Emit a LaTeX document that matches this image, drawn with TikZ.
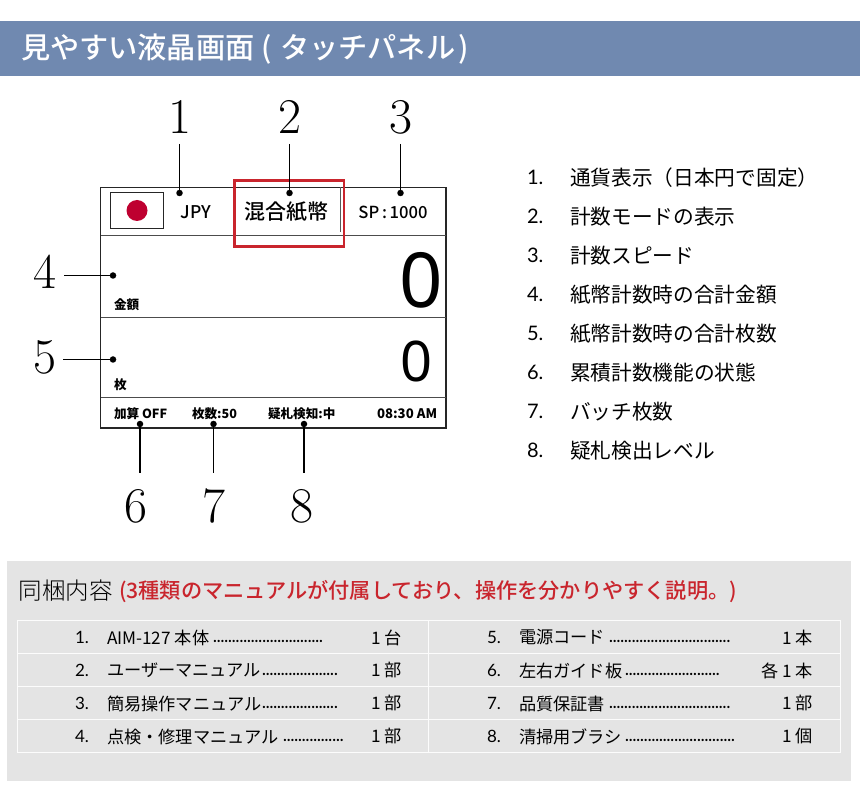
\documentclass[tikz,border=0pt]{standalone}
\usepackage{fontspec}
\setmainfont{Noto Sans CJK JP}
\newfontfamily\numfont{Latin Modern Roman}
\newfontfamily\bigfont{Noto Sans}
\newfontfamily\latfont{Lato}
\newfontfamily\medfont{Noto Sans CJK JP Medium}
\newfontfamily\lightfont{Noto Sans CJK JP Light}
\newcommand{\fs}[1]{\fontsize{#1}{#1}\selectfont}
\definecolor{band}{HTML}{7089B0}
\definecolor{boxgray}{HTML}{E4E4E4}
\definecolor{redtxt}{HTML}{C9252D}
\definecolor{flagred}{HTML}{BE0030}
\tikzset{
 txt/.style={inner sep=0,outer sep=0,anchor=west,text=black},
 ctr/.style={inner sep=0,outer sep=0,anchor=center,text=black},
 bignum/.style={ctr,font=\numfont\fs{50}},
 pointer/.style={circle,fill=black,inner sep=0,minimum size=6.5pt},
 leader/.style={line width=1.4pt,black},
 panelrule/.style={line width=0.9pt,draw=black!70},
 listnum/.style={txt,font=\latfont\fs{20}},
 listtxt/.style={txt,font=\fs{20.7}},
 rownum/.style={txt,font=\latfont\fs{17}},
 rowtxt/.style={txt,font=\fs{17.2}},
 dots/.style={txt,font=\bfseries\fs{10.8}},
 paneltxt/.style={txt,font=\bfseries\fs{12.6}},
 gridline/.style={line width=1pt,draw=white!90!boxgray},
}
\begin{document}
\begin{tikzpicture}[x=1pt,y=-1pt]
\useasboundingbox (0,0) rectangle (860,794);
% header
\fill[band] (0,21) rectangle (860,76);
\node[txt,text=white,font=\medfont\fs{29.2}] (title) at (21,49) {見やすい液晶画面 ( \hspace{2pt}タッチパネル\hspace{3pt})};
% panel
\draw[line width=1.3pt,black!85] (100.5,187.5) rectangle (446,428);
\draw[panelrule] (100.5,235.5) -- (446,235.5);
\draw[panelrule] (100.5,317.5) -- (446,317.5);
\draw[panelrule] (100.5,397) -- (446,397);
\draw[line width=0.9pt,black!85] (110.5,192) rectangle (163.5,228.5);
\fill[flagred] (137,210.5) circle (10.5);
\draw[line width=1.3pt,black!65] (340.7,187.5) -- (340.7,232);
\draw[line width=2.6pt,redtxt] (234.5,180.5) rectangle (344,246.5);
\node[ctr,font=\medfont\fs{17.5}] (jpy) at (196,212) {JPY};
\node[ctr,font=\medfont\fs{21}] (mode) at (286.5,212) {混合紙幣};
\node[ctr,font=\medfont\fs{16.6}] (sp) at (393,212) {SP\,:\,1000};
\node[paneltxt] (amt) at (114,305) {金額};
\node[paneltxt] (cnt) at (114,385) {枚};
\node[ctr,font=\bigfont\fs{76}] (zeroa) at (421,280) {0};
\node[ctr,font=\bigfont\fs{56}] (zerob) at (417,361) {0};
\node[paneltxt] (add) at (114,414) {加算 OFF};
\node[paneltxt] (batch) at (192,414) {枚数:50};
\node[paneltxt] (susp) at (268,414) {疑札検知:中};
\node[txt,font=\bfseries\fs{13.2}] (clock) at (377,414) {08:30 AM};
% callouts
\node[bignum] (n1) at (179.5,117) {1};
\node[bignum] (n2) at (289.5,117) {2};
\node[bignum] (n3) at (400.5,117) {3};
\node[bignum] (n4) at (44.5,272) {4};
\node[bignum] (n5) at (44.5,357) {5};
\node[bignum] (n6) at (136,506) {6};
\node[bignum] (n7) at (214,506) {7};
\node[bignum] (n8) at (301.5,506) {8};
\node[pointer] (p1) at (179.5,193) {};
\node[pointer] (p2) at (289.5,193) {};
\node[pointer] (p3) at (400.5,193) {};
\node[pointer] (p4) at (113,275.5) {};
\node[pointer] (p5) at (113,359.5) {};
\node[pointer] (p6) at (140,424) {};
\node[pointer] (p7) at (213.5,424) {};
\node[pointer] (p8) at (304,424) {};
\coordinate (c1) at (179.5,144);
\coordinate (c2) at (289.5,144);
\coordinate (c3) at (400.5,144);
\coordinate (c4) at (64,275.5);
\coordinate (c5) at (63,359.5);
\coordinate (c6) at (140,472.5);
\coordinate (c7) at (213.5,472.5);
\coordinate (c8) at (304,472.5);
\foreach \i in {1,...,8} {\draw[leader] (c\i) -- (p\i.center);}
% right list
\foreach \i/\y/\t in {1/177.5/通貨表示（日本円で固定）,2/216.5/計数モードの表示,3/255.5/計数スピード,4/294.5/紙幣計数時の合計金額,5/333.5/紙幣計数時の合計枚数,6/372.5/累積計数機能の状態,7/411.5/バッチ枚数,8/450.5/疑札検出レベル} {
  \node[listnum] (ln\i) at (527,\y) {\i.};
  \node[listtxt] (lt\i) at (570,\y) {\t};
}
% contents box
\fill[boxgray] (7,561) rectangle (851,781);
\node[txt,font=\lightfont\fs{23.5}] (boxtitle) at (19,591) {同梱内容};
\node[txt,text=redtxt,font=\medfont\fs{21.2}] (boxnote) at (119,592) {(3種類のマニュアルが付属しており、操作を分かりやすく説明。)};
\draw[gridline] (17.5,620) rectangle (840,752.5);
\foreach \y in {653,686,719} {\draw[gridline] (17.5,\y) -- (840,\y);}
\draw[gridline] (428.5,620) -- (428.5,752.5);
\foreach \i/\y/\t in {1/637.5/AIM-127 本体,2/670.5/ユーザーマニュアル,3/703.5/簡易操作マニュアル,4/736.5/点検・修理マニュアル} {
  \node[rownum] (rn\i) at (75,\y) {\i.};
  \node[rowtxt] (rt\i) at (107,\y) {\t};
}
\foreach \i/\y/\t in {5/637.5/電源コード,6/670.5/左右ガイド板,7/703.5/品質保証書,8/736.5/清掃用ブラシ} {
  \node[rownum] (rn\i) at (487,\y) {\i.};
  \node[rowtxt] (rt\i) at (519,\y) {\t};
}
\node[dots] (d1) at (213,641) {.............................};
\node[dots] (d2) at (262,674) {....................};
\node[dots] (d3) at (262,707) {....................};
\node[dots] (d4) at (283,740) {................};
\node[dots] (d5) at (609,641) {................................};
\node[dots] (d6) at (625,674) {.........................};
\node[dots] (d7) at (609,707) {................................};
\node[dots] (d8) at (625,740) {.............................};
\foreach \i/\y/\t in {1/637.5/1 台,2/670.5/1 部,3/703.5/1 部,4/736.5/1 部} {
  \node[rowtxt] (q\i) at (371,\y) {\t};
}
\foreach \i/\y/\t in {5/637.5/1 本,6/670.5/各 1 本,7/703.5/1 部,8/736.5/1 個} {
  \node[rowtxt,anchor=east] (q\i) at (813,\y) {\t};
}
\end{tikzpicture}
\end{document}
